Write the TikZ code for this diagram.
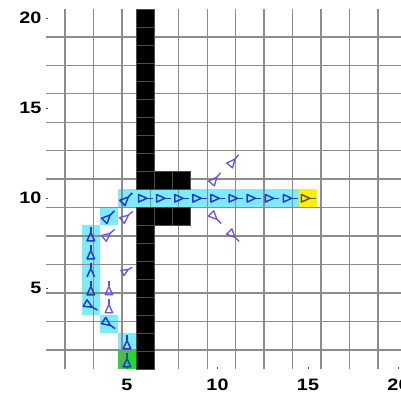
\documentclass[tikz,border=0pt]{standalone}
\usepackage{fontspec}
\setmainfont{Liberation Sans}
\definecolor{pathcyan}{RGB}{125,235,250}
\definecolor{startgreen}{RGB}{40,215,40}
\definecolor{goalyellow}{RGB}{255,240,0}
\definecolor{pathblue}{RGB}{30,60,210}
\definecolor{visitpurple}{RGB}{105,80,230}
\definecolor{goalglyph}{RGB}{90,90,65}
\tikzset{
  gridline/.style={draw=gray!90, line width=1.3pt},
  wall/.style={fill=black, draw=black!70!white, line width=0.8pt},
  pathcell/.style={fill=pathcyan},
  startcell/.style={fill=startgreen},
  goalcell/.style={fill=goalyellow},
  axistick/.style={draw=black!70, line width=0.8pt},
  ticklabel/.style={font=\fontsize{16.5}{18}\selectfont\bfseries, xscale=1.2, inner sep=0pt},
  onpath/.style={pathblue, line width=1.5pt},
  visited/.style={visitpurple, line width=1.3pt},
  atgoal/.style={goalglyph, line width=1.5pt},
  glyph/.pic={\draw[line join=round] (-0.36,0.21) -- (0.1,0) -- (-0.36,-0.21) -- cycle; \draw (0.1,0) -- (0.42,0);},
  glyphopen/.pic={\draw[line join=round] (-0.36,0.21) -- (0.1,0) -- (-0.36,-0.21); \draw (0.1,0) -- (0.42,0);}
}
\begin{document}
\begin{tikzpicture}[x=18.1pt,y=18pt]
\useasboundingbox (-2.0166,-0.928) rectangle (20.138,21.017);
% path cells
\foreach \x/\y in {5/2,4/3,3/4,3/5,3/6,3/7,3/8,4/9,5/10,6/10,7/10,8/10,9/10,10/10,11/10,12/10,13/10,14/10}
  \fill[pathcell] (\x-0.5,\y-0.5) rectangle ++(1,1);
\fill[startcell] (4.5,0.5) rectangle ++(1,1);
\fill[goalcell] (14.5,9.5) rectangle ++(1,1);
% grid
\draw[gridline] (0.5,0.5) grid (20.5,20.5);
% walls
\foreach \y in {1,...,9,11,12,...,20}
  \filldraw[wall] (5.5,\y-0.5) rectangle ++(1,1);
\foreach \x/\y in {7/9,8/9,7/11,8/11}
  \filldraw[wall] (\x-0.5,\y-0.5) rectangle ++(1,1);
% ticks and labels
\foreach \t in {5,10,15,20} {
  \draw[axistick] (0.5,\t) -- ++(0.15,0);
  \draw[axistick] (\t,0.5) -- ++(0,0.15);
  \node[ticklabel, anchor=east] (ylab\t) at (0.28,\t) {\t};
  \node[ticklabel] (xlab\t) at (\t,-0.37) {\t};
}
% path glyphs
\pic[onpath, rotate=90] at (5,1) {glyph};
\pic[onpath, rotate=90] at (5,2) {glyph};
\pic[onpath, rotate=-35] at (4,3) {glyph};
\pic[onpath, rotate=-30] at (3,4) {glyph};
\pic[onpath, rotate=90] at (3,5) {glyph};
\pic[onpath, rotate=90] at (3,6) {glyphopen};
\pic[onpath, rotate=90] at (3,7) {glyph};
\pic[onpath, rotate=90] at (3,8) {glyph};
\pic[onpath, rotate=45] at (4,9) {glyph};
\pic[onpath, rotate=45] at (5,10) {glyph};
\foreach \x in {6,...,14}
  \pic[onpath] at (\x,10) {glyph};
\pic[atgoal] at (15,10) {glyph};
% visited glyphs
\pic[visited, rotate=40] at (5,9) {glyph};
\pic[visited, rotate=40] at (4,8) {glyph};
\pic[visited, rotate=30, scale=0.8] at (5,6) {glyph};
\pic[visited, rotate=90] at (4,5) {glyph};
\pic[visited, rotate=90] at (4,4) {glyph};
\pic[visited, rotate=50] at (9.9,11.1) {glyph};
\pic[visited, rotate=50] at (10.9,12.1) {glyph};
\pic[visited, rotate=-45] at (9.9,8.9) {glyph};
\pic[visited, rotate=-45] at (10.9,7.9) {glyph};
\end{tikzpicture}
\end{document}
